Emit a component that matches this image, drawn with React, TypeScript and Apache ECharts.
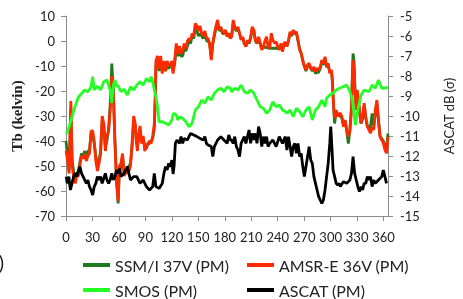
import React, { useEffect, useRef } from "react";
import * as echarts from "echarts";

// Day of year shared by the two brightness-temperature series
const tbDays = [
  0, 2, 3.5, 5.5, 7, 9, 10.5, 12, 14, 16, 17.6, 19.4, 21.2, 23, 24.8, 26.6, 28.4, 30.2, 32, 33.8,
  35.6, 37.4, 39.2, 41, 42.8, 44.6, 46.4, 48.3, 50, 51.9, 53.7, 55.5, 57.3, 59.1, 60.5, 62.3, 64.1,
  65.9, 67.7, 69.5, 71.3, 73.1, 74.9, 76.7, 78.5, 79.6, 81, 82.1, 83.9, 85.7, 87.5, 89.3, 91.1, 92.9,
  94.7, 96.5, 98.3, 100.1, 101.2, 101.9, 103.7, 105.5, 107.3, 109.1, 111, 112.8, 114.6, 116.4, 118.2,
  120, 121.4, 123.2, 125, 126.8, 128.6, 130.4, 132.2, 134, 135.8, 137.6, 139.4, 141.2, 143, 144.8,
  146.6, 148.4, 150.2, 152, 153.8, 155.6, 157.4, 159.5, 161, 162.8, 164.7, 166.4, 168.2, 170, 171.9,
  173.7, 175.5, 177.5, 179, 180.9, 182.7, 184.5, 186.3, 187.7, 189.5, 191.3, 193.1, 194.9, 196.7,
  198.5, 200.3, 202.1, 203.9, 205.7, 207.5, 209.3, 211.1, 212.9, 214.7, 216.5, 218.3, 220.1, 221.9,
  223.7, 225.5, 227.3, 229.1, 230.9, 232.7, 234.5, 236.3, 238.2, 240, 241.8, 243.6, 245.4, 247.2, 249,
  250.4, 252.2, 254, 255.8, 257.6, 259.4, 261.2, 263, 264.8, 266.6, 268.4, 270.2, 272, 273.8, 275.6,
  277.4, 279.2, 281, 282.8, 284.6, 286.4, 288.2, 290, 291.8, 293.6, 295.4, 297.2, 299, 300.9, 302,
  302.7, 303.7, 304.5, 306.3, 308.1, 309.9, 311, 312.8, 314.6, 316.4, 318.2, 320, 321.8, 323.6, 324.7,
  325.4, 326.5, 327.6, 329, 330.1, 331.2, 332.6, 334.4, 336.2, 338, 339.8, 341.6, 343.4, 345.2, 347,
  348.8, 350.6, 352.4, 354.2, 356, 357.9, 359.7, 361.5, 363.3, 365,
];

const amsrTb = [
  -44, -48, -53, -24, -50, -55, -57, -54, -54, -49, -46, -47, -45, -48, -46, -45, -36, -36, -40, -48,
  -52, -49, -45, -30, -33, -44, -38, -36, -28, -14, -22, -41, -57, -64, -50, -49, -45,
  -54, -52, -53, -52, -50, -41, -30, -33, -40, -44, -38, -34, -41, -38, -44, -42, -41,
  -40, -41, -38, -33, -21, -8, -6, -11, -6, -13, -8, -12, -8, -9.5, -10,
  -8, -13, -8, -1, -5, -2, -5, -4, -1, -3, 0, 1, 0.4, 3, 2,
  7, 6, 4, 6, 3, 2, 4, 1, 1, -1, -7.6, -1, 3, 6, 8.4,
  4.4, 5.7, 3.5, 3.1, 4.4, 1.7, 3.1, 1.1, 1.7, 8.4, 5.7, 4.4, 5.7, 3.1,
  0.4, 1.7, -0.9, -2.3, 0.4, -0.9, 1.7, 5.7, 4.4, 0.4, -0.9, 1.7, -0.9, -3.6,
  -2.3, 0, 1.7, -2.3, -2.9, 3.1, 0.4, -0.9, -0.3, -2.3, -3.6, -0.9, -4.3, -0.9, -0.5,
  -2.3, 0.4, 3.7, 2.4, 4.4, 3.1, 3.7, 0.4, -3.6, -4.9, -7.6, -10.3, -11.6, -9.6, -8.9,
  -10.9, -11.6, -10.3, -12.3, -10.9, -11.6, -10.3, -7.6, -8.9, -6.3, -10.3, -8.9, -12.9, -11.6, -15.6,
  -20.9, -27.6, -30.9, -27.6, -30.3, -29, -28.9, -30.3, -34.3, -31.6, -35.6, -38.3, -35.6, -27.6, -14.3,
  -7.6, -11.6, -20.9, -27.6, -19.6, -22.3, -27.6, -32.9, -30.3, -24.9, -30.3, -34.3, -35.6, -36.9, -34.3,
  -35.6, -27.6, -23.6, -31.6, -38.3, -39.6, -40.9, -43.6, -44.9, -38.3,
];

const ssmiTb = [
  -40, -47, -52, -27, -48, -53, -55, -53, -52, -48, -45, -46, -44, -47, -44, -44, -37, -38, -41, -46,
  -50, -48, -44, -32, -34, -42, -40, -35, -26, -9, -20, -40, -55, -65, -52, -50, -46,
  -53, -51, -52, -50, -49, -42, -32, -34, -39, -42, -39, -36, -40, -39, -42, -43, -41,
  -41, -40, -39, -35, -24, -10, -7, -12, -8, -12, -9, -12, -10, -11, -10,
  -10, -12, -9, -3, -6, -4, -6, -6, -3, -4, -2, 0, -1, 2, 1,
  6, 4, 2, 3, 2, 1, 3, 0, 0, -1, -7, -1, 2, 5, 7,
  4, 5, 3, 3, 4, 2, 3, 1, 2, 7, 5, 4, 5, 3,
  1, 1, -1, -2, 0, -1, 1, 5, 4, 0, -1, 1, -1, -3,
  -2.5, -2.5, -2.6, -2.8, -2.9, -2.9, -2.9, -2.9, -2.9, -3, -3, -3, -3.5, -1.5, -1,
  -2, 0, 3, 2, 4, 3, 3, 0, -3, -5, -8, -10, -12, -10, -9.5,
  -11, -12, -11, -13, -12.5, -12.5, -11, -8.5, -9.5, -7, -10.5, -9.5, -12.5, -12, -17,
  -22, -29, -33, -28, -30, -29, -30, -31, -34, -32, -36, -41, -36, -26, -12,
  -5, -8, -19, -27, -21, -23, -28, -33, -31, -26, -31, -34, -35, -34, -29,
  -34, -29, -25, -32, -38, -39, -40, -42, -43, -37,
];

const smosDays = [
  0.3, 3, 6.8, 10.4, 14, 17.6, 21.2, 24.8, 28.4, 30.2, 32, 35.6, 39.2, 42.8, 46.4, 50, 51.9, 53.6,
  55.5, 57.3, 58.7, 62.3, 65.9, 69.5, 73.1, 76.7, 80.3, 83.9, 87.5, 91.1, 94.7, 96.5, 98.3, 100.1,
  101.9, 103.7, 105.5, 109.1, 112.8, 116.4, 120, 121.8, 125, 126.8, 128.6, 132.2, 135.8, 139.4, 143,
  146.6, 150.2, 153.8, 157.4, 161, 164.7, 168.2, 171.9, 175.5, 179, 182.7, 186.3, 187.7, 191.3, 194.9,
  198.5, 202.1, 205.7, 209.3, 212.9, 216.5, 220.1, 223.7, 227.3, 230.9, 234.5, 238.2, 241.8, 245.4,
  249, 250.4, 254, 257.6, 261.2, 264.8, 268.4, 272, 275.6, 279.2, 282.8, 286.4, 290, 293.6, 295.4, 299,
  302.7, 306.3, 309.9, 312.8, 318.2, 321.8, 324.7, 328, 330.8, 334.4, 338, 343.4, 347, 350.6, 354.2,
  357.9, 363.3, 365,
];

const smosTb = [
  -37.2, -35, -30.3, -26, -22.5, -21, -19.6, -20.3, -18.3, -14.3, -19.6, -18, -19.6, -16.3, -15.6, -19.6, -24.8, -17.6,
  -15.6, -18.3, -17.6, -20.3, -19.3, -21.6, -18.3, -19.6, -17.6, -16.3, -17.6, -15, -16.3, -14.3, -16.3, -19.6,
  -22.3, -26.3, -32.3, -32.3, -32.9, -33.6, -31.6, -28.9, -29.6, -31.6, -30.3, -30.9, -32.3, -34.3, -32.9,
  -27.6, -26.3, -23.6, -24.9, -22.3, -23.6, -20.9, -19.6, -18.9, -20.3, -18.3, -18.9, -20.3, -18.9, -19.6,
  -17.6, -20.3, -20.9, -19.6, -20.9, -23.6, -26.3, -26.9, -28.9, -27.6, -24.3, -26.3, -25.6, -27.6,
  -28.3, -28.9, -27.6, -30.3, -26.9, -28.3, -30.3, -27.6, -26.3, -31.6, -27.6, -26.3, -23.6, -26.3, -22.9, -21.6,
  -20.9, -19.6, -18.9, -18.5, -17.6, -20.3, -23.6, -33.6, -27.6, -21.6, -19.6, -20.3, -17.6, -18.9, -15.6,
  -18.9, -18.7, -18.6,
];

const ascatDays = [
  0.3, 1.4, 3.2, 5, 6.8, 8.6, 10.4, 12.2, 14, 15.8, 17.6, 19.4, 21.2, 23, 24.8, 26.6, 28.4, 30.2, 32,
  33.8, 35.6, 37.4, 39.2, 41, 42.8, 44.6, 46.4, 48.3, 50, 51.9, 53.7, 55.5, 57.3, 59.1, 60.9, 62.3,
  65.9, 69.5, 73.1, 76.7, 80.3, 83.9, 87.5, 91.1, 94.7, 98.3, 100.1, 101.9, 105.5, 109.1, 111, 112.8,
  114.6, 116.4, 118.2, 120, 121.4, 122.5, 124, 125.7, 128.6, 130.4, 132.2, 134, 137.6, 141.2, 144.8,
  148.4, 152, 155.6, 157.4, 159.2, 161, 164.7, 166.4, 168.2, 171.9, 175.5, 179, 182.7, 184.5, 186.3,
  187.7, 189.5, 191.3, 193.1, 194.9, 196.7, 198.5, 200.3, 202.1, 203.9, 205.7, 207.5, 209.3, 211.1,
  212.9, 214.7, 216.5, 218.3, 220.1, 221.9, 223.7, 225.5, 227.3, 229.1, 230.9, 234.5, 238.2, 241.8,
  245.4, 248.6, 250.4, 252.2, 254, 255.8, 257.6, 259.4, 261.2, 263, 264.8, 266.6, 268.4, 270.2, 272,
  273.8, 275.6, 277.4, 279.2, 281, 282.8, 284.6, 286.4, 288.2, 290, 291.8, 293.6, 295.4, 297.2, 299,
  300.1, 301.6, 302.7, 304.5, 306.3, 308.1, 309.9, 311, 314.6, 318.2, 321.8, 323.6, 325.4, 327.2, 329,
  330.8, 332.6, 334.4, 336.2, 338, 339.8, 341.6, 343.4, 345.2, 347, 348.8, 350.6, 354.2, 357.9, 359.7,
  361.5, 363.3,
];

const ascatSigma = [
  -13.03, -13.37, -13.03, -13.7, -13.37, -13.03, -12.87, -13.03, -12.78, -12.53, -12.87, -13.03, -13.2, -13.37, -13.2, -13.53, -13.7, -13.95, -13.53,
  -13.37, -13.03, -13.2, -13.03, -13.37, -13.12, -12.87, -13.2, -13.37, -13.2, -12.87, -13.2, -13.03, -12.7, -12.87, -12.62, -13.03,
  -12.87, -12.53, -13.2, -13.03, -13.03, -13.37, -13.2, -13.53, -13.7, -13.53, -12.87, -13.53, -13.62, -13.37, -12.87, -12.53,
  -12.7, -12.37, -12.53, -12.2, -12.9, -12.5, -11.37, -11.2, -11.37, -11.03, -11.37, -11.12, -11.2, -10.87, -10.95,
  -11.03, -11.12, -11.2, -11.03, -11.37, -11.45, -11.53, -12.03, -11.53, -11.2, -11.03, -11.2, -11.37, -10.95, -11.2,
  -11.2, -11.37, -11.03, -11.53, -11.7, -12.03, -11.37, -11.2, -11.03, -11.37, -11.03, -10.7, -11.37, -10.87,
  -11.2, -10.87, -11.37, -10.53, -10.87, -11.53, -11.03, -11.37, -11.03, -11.53, -11.37, -11.2, -11.53, -11.03,
  -11.37, -11.03, -11.7, -11.03, -11.53, -12.03, -11.53, -11.37, -11.87, -11.37, -12.03, -11.87, -12.53, -13.03, -12.53,
  -12.03, -11.53, -12.2, -12.37, -13.03, -13.37, -13.7, -14.03, -14.2, -14.37, -14.2, -13.7, -13.03, -12.37, -11.37,
  -10.53, -11.7, -12.7, -13.03, -13.37, -13.45, -13.37, -13.53, -13.28, -13.37, -13.2, -12.87, -12.03, -12.87, -13.2,
  -13.53, -13.78, -13.53, -13.7, -13.37, -13.37, -13.03, -13.2, -13.03, -13.53, -13.2, -13.37, -13.2, -13.03, -12.7,
  -13.03, -13.37,
];

const xTickStep = 30;
const legendNames = ["SSM/I 37V (PM)", "AMSR-E 36V (PM)", "SMOS (PM)", "ASCAT (PM)"];
const seriesColors = ["#1f7a1f", "#ff2a00", "#22ff22", "#000000"];

const pair = (xs: number[], ys: number[]) => xs.map((x, i) => [x, ys[i]]);

export default function App() {
  const ref = useRef<HTMLDivElement>(null);
  useEffect(() => {
    if (!ref.current) return;
    const chart = echarts.init(ref.current, undefined, { renderer: "svg" });
    const axisLineStyle = { color: "#8c8c8c", width: 1 };
    const labelStyle = { color: "#222", fontFamily: "Lato", fontSize: 13 };
    const legendBase = {
      icon: "rect",
      itemWidth: 27,
      itemHeight: 4,
      padding: 0,
      textStyle: { color: "#222", fontFamily: "Lato", fontSize: 16, lineHeight: 16 },
    };
    const mk = (name: string, data: number[][], color: string, yIdx: number) => ({
      name,
      type: "line",
      data,
      yAxisIndex: yIdx,
      showSymbol: false,
      symbol: "none",
      lineStyle: { color, width: 2.8 },
      itemStyle: { color },
    });
    chart.setOption({
      animation: false,
      grid: { left: 66, right: 60, top: 16, bottom: 83 },
      xAxis: {
        type: "value",
        min: 0,
        max: 365,
        interval: xTickStep,
        axisLine: { onZero: false, lineStyle: axisLineStyle },
        axisTick: { show: true, length: 5, lineStyle: axisLineStyle },
        axisLabel: { ...labelStyle, margin: 14, showMaxLabel: false },
        splitLine: { show: false },
      },
      yAxis: [
        {
          type: "value",
          position: "left",
          min: -70,
          max: 10,
          interval: 10,
          name: "Tb (kelvin)",
          nameLocation: "middle",
          nameGap: 34,
          nameTextStyle: { fontFamily: "Liberation Serif", fontWeight: "bold", fontSize: 15, color: "#222" },
          axisLine: { show: true, lineStyle: axisLineStyle },
          axisTick: { show: true, length: 5, lineStyle: axisLineStyle },
          axisLabel: { ...labelStyle, margin: 11 },
          splitLine: { show: false },
        },
        {
          type: "value",
          position: "right",
          min: -15,
          max: -5,
          interval: 1,
          name: "ASCAT dB (σ)",
          nameLocation: "middle",
          nameGap: 54,
          nameTextStyle: { fontFamily: "Lato", fontSize: 13, color: "#222" },
          axisLine: { show: true, lineStyle: axisLineStyle },
          axisTick: { show: true, length: 5, lineStyle: axisLineStyle },
          axisLabel: { ...labelStyle, margin: 12 },
          splitLine: { show: false },
        },
      ],
      legend: [
        { ...legendBase, data: [legendNames[0]], left: 83, top: 257 },
        { ...legendBase, data: [legendNames[1]], left: 247, top: 257 },
        { ...legendBase, data: [legendNames[2]], left: 83, top: 282 },
        { ...legendBase, data: [legendNames[3]], left: 247, top: 282 },
      ],
      graphic: [
        {
          type: "text",
          x: 4,
          y: 262,
          style: { text: "(a)", align: "right", verticalAlign: "middle", fontFamily: "Lato", fontSize: 20, fill: "#222" },
        },
      ],
      series: [
        mk(legendNames[0], pair(tbDays, ssmiTb), seriesColors[0], 0),
        mk(legendNames[1], pair(tbDays, amsrTb), seriesColors[1], 0),
        mk(legendNames[2], pair(smosDays, smosTb), seriesColors[2], 0),
        mk(legendNames[3], pair(ascatDays, ascatSigma), seriesColors[3], 1),
      ],
    });
    return () => chart.dispose();
  }, []);
  return <div ref={ref} style={{ position: "fixed", left: 0, top: 0, width: 463, height: 299 }} />;
}
